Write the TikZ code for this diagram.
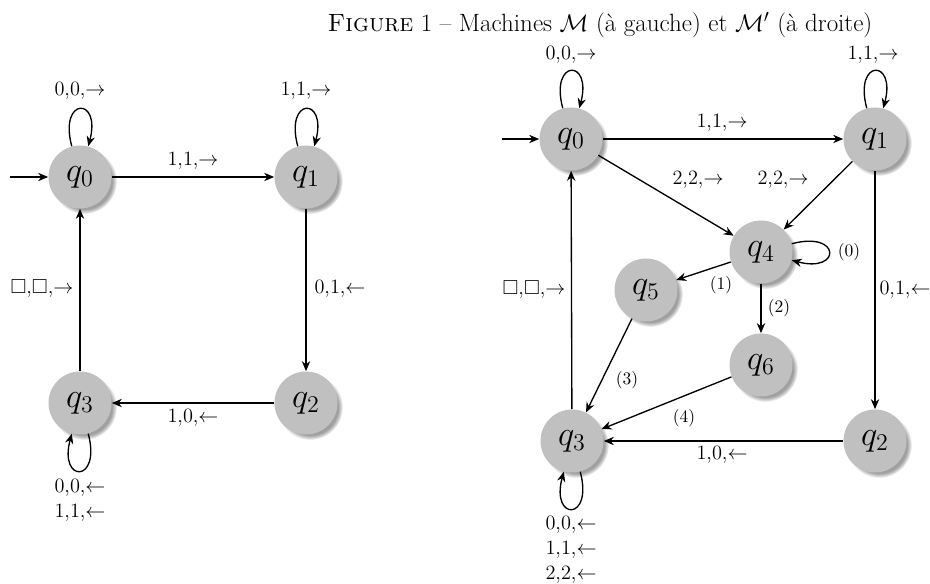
\documentclass[tikz,border=0pt]{standalone}
\usepackage{amssymb}
\usetikzlibrary{arrows.meta,shadows}

\definecolor{stategray}{RGB}{192,192,192}

\tikzset{
  stt/.style={circle, fill=stategray, minimum size=37.8pt, inner sep=0pt,
    font=\fontsize{20}{24}\selectfont,
    circular drop shadow={shadow xshift=2.4pt, shadow yshift=-2.4pt,
      shadow scale=1.04, opacity=0.75}},
  lbl/.style={font=\fontsize{12.2}{15}\selectfont, inner sep=0pt, align=center},
  num/.style={font=\fontsize{10.5}{12}\selectfont, inner sep=0pt},
  trans/.style={-{Stealth[length=6pt,width=5pt]}, line width=0.8pt},
  loopdown/.style={out=-75, in=-105, looseness=8, min distance=5mm},
}

\begin{document}
\begin{tikzpicture}[x=0.6pt, y=-0.6pt]
  \useasboundingbox (0,0) rectangle (930,584);

  % caption
  \node[font=\fontsize{15}{18}\selectfont, inner sep=0pt] (cap) at (600,25)
    {\textsc{Figure} 1 -- Machines $\mathcal{M}$ (à gauche) et $\mathcal{M}'$ (à droite)};

  % ---- machine M ----
  \node[stt] (a0) at (80,177) {$q_0$};
  \node[stt] (a1) at (306,177) {$q_1$};
  \node[stt] (a2) at (306,403) {$q_2$};
  \node[stt] (a3) at (80,403) {$q_3$};
  \coordinate (ai) at (10,177);

  \draw[trans] (ai) -- (a0);
  \draw[trans] (a0) -- (a1);
  \draw[trans] (a1) -- (a2);
  \draw[trans] (a2) -- (a3);
  \draw[trans] (a3) -- (a0);
  \draw[trans] (a0) to[loop above] (a0);
  \draw[trans] (a1) to[loop above] (a1);
  \draw[trans] (a3) to[loopdown] (a3);

  \node[lbl] (la01) at (193,161) {1,1,$\rightarrow$};
  \node[lbl] (la00) at (80,91) {0,0,$\rightarrow$};
  \node[lbl] (la11) at (306,91) {1,1,$\rightarrow$};
  \node[lbl] (la12) at (340,289) {0,1,$\leftarrow$};
  \node[lbl] (la30) at (42,289) {$\square$,$\square$,$\rightarrow$};
  \node[lbl] (la23) at (193,418) {1,0,$\leftarrow$};
  \node[lbl, anchor=north] (la33) at (80,479) {0,0,$\leftarrow$\\1,1,$\leftarrow$};

  % ---- machine M' ----
  \node[stt] (b0) at (571,139) {$q_0$};
  \node[stt] (b1) at (875,139) {$q_1$};
  \node[stt] (b2) at (875,441) {$q_2$};
  \node[stt] (b3) at (572,441) {$q_3$};
  \node[stt] (b4) at (761,252) {$q_4$};
  \node[stt] (b5) at (646,290) {$q_5$};
  \node[stt] (b6) at (761,365) {$q_6$};
  \coordinate (bi) at (502,139);

  \draw[trans] (bi) -- (b0);
  \draw[trans] (b0) -- (b1);
  \draw[trans] (b0) -- (b4);
  \draw[trans] (b1) -- (b4);
  \draw[trans] (b1) -- (b2);
  \draw[trans] (b2) -- (b3);
  \draw[trans] (b3) -- (b0);
  \draw[trans] (b4) -- (b5);
  \draw[trans] (b4) -- (b6);
  \draw[trans] (b5) -- (b3);
  \draw[trans] (b6) -- (b3);
  \draw[trans] (b0) to[loop above] (b0);
  \draw[trans] (b1) to[loop above] (b1);
  \draw[trans] (b4) to[loop right] (b4);
  \draw[trans] (b3) to[loopdown] (b3);

  \node[lbl] (lb01) at (722,123) {1,1,$\rightarrow$};
  \node[lbl] (lb00) at (571,55) {0,0,$\rightarrow$};
  \node[lbl] (lb11) at (873,55) {1,1,$\rightarrow$};
  \node[lbl] (lb04) at (698,180) {2,2,$\rightarrow$};
  \node[lbl] (lb14) at (783,180) {2,2,$\rightarrow$};
  \node[lbl] (lb12) at (905,290) {0,1,$\leftarrow$};
  \node[lbl] (lb30) at (534,290) {$\square$,$\square$,$\rightarrow$};
  \node[lbl] (lb23) at (722,455) {1,0,$\leftarrow$};
  \node[lbl, anchor=north] (lb33) at (571,516) {0,0,$\leftarrow$\\1,1,$\leftarrow$\\2,2,$\leftarrow$};
  \node[num] (n0) at (849,252) {(0)};
  \node[num] (n1) at (721,285) {(1)};
  \node[num] (n2) at (779,308) {(2)};
  \node[num] (n3) at (627,380) {(3)};
  \node[num] (n4) at (684,418) {(4)};
\end{tikzpicture}
\end{document}
